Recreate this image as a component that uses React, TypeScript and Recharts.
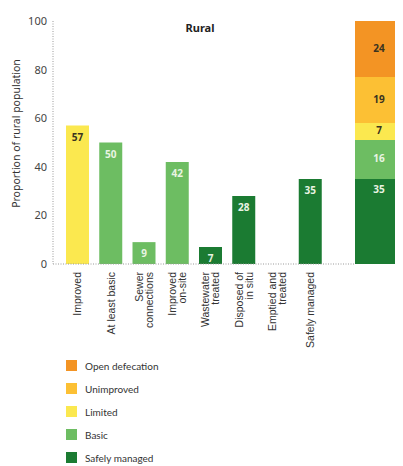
import React from 'react';
import { BarChart, Bar, XAxis, YAxis, Cell, LabelList } from 'recharts';

// x categories, '\n' marks the line break in the rotated tick
const categories = [
  'Improved',
  'At least basic',
  'Sewer\nconnections',
  'Improved\non-site',
  'Wastewater\ntreated',
  'Disposed of\nin situ',
  'Emptied and\ntreated',
  'Safely managed',
];
const values = [57, 50, 9, 42, 7, 28, null, 35];
const levels = ['Limited', 'Basic', 'Basic', 'Basic', 'Safely managed', 'Safely managed', 'Safely managed', 'Safely managed'];

// service ladder, top to bottom (legend order)
const ladderLevels = ['Open defecation', 'Unimproved', 'Limited', 'Basic', 'Safely managed'];
const ladderValues = [24, 19, 7, 16, 35];

const yTicks = [0, 20, 40, 60, 80, 100];

const COLORS: Record<string, string> = {
  'Open defecation': '#f39424',
  Unimproved: '#fcc034',
  Limited: '#fbe84f',
  Basic: '#6dbd62',
  'Safely managed': '#1b7b32',
};
const DARK_TEXT = ['Open defecation', 'Unimproved', 'Limited'];

const mainData = categories.map((name, i) => ({ name, value: values[i], level: levels[i] }));

const ladderRow: Record<string, any> = { name: 'Rural' };
ladderLevels.forEach((l, i) => {
  ladderRow[l] = ladderValues[i];
});
const ladderData = [ladderRow];

const FONT = '"Noto Sans", "DejaVu Sans", sans-serif';

function CategoryTick({ x, y, payload }: any) {
  const lines = String(payload.value).split('\n');
  const lh = 10;
  return (
    <g transform={`translate(${x},${y + 8}) rotate(-90)`}>
      <text textAnchor="end" fontSize={10.5} fill="#333" fontFamily='"Liberation Sans", Arial, sans-serif'>
        {lines.map((line, i) => (
          <tspan key={i} x={0} y={(i - (lines.length - 1) / 2) * lh} dy="0.35em">
            {line}
          </tspan>
        ))}
      </text>
    </g>
  );
}

function YLabel({ viewBox }: any) {
  const cx = viewBox.x + 9;
  const cy = viewBox.y + viewBox.height / 2 - 9;
  return (
    <text
      x={cx}
      y={cy}
      transform={`rotate(-90, ${cx}, ${cy})`}
      textAnchor="middle"
      dominantBaseline="middle"
      fontSize={10.5}
      fill="#333"
      fontFamily={FONT}
    >
      Proportion of rural population
    </text>
  );
}

function BarValue({ x, y, width, value, index }: any) {
  if (value == null) return null;
  const dark = DARK_TEXT.includes(levels[index]);
  return (
    <text
      x={x + width / 2}
      y={y + 12.5}
      textAnchor="middle"
      dominantBaseline="middle"
      fontSize={10}
      fontWeight={700}
      fill={dark ? '#3a3320' : '#e9f4e2'}
      fontFamily={FONT}
    >
      {value}
    </text>
  );
}

function makeLadderLabel(level: string) {
  return ({ x, y, width, height, value }: any) => {
    const dark = DARK_TEXT.includes(level);
    const ty = level === 'Safely managed' ? y + 11 : y + height / 2;
    return (
      <text
        x={x + width / 2}
        y={ty}
        textAnchor="middle"
        dominantBaseline="middle"
        fontSize={10}
        fontWeight={700}
        fill={dark ? '#3a3320' : '#e9f4e2'}
        fontFamily={FONT}
      >
        {value}
      </text>
    );
  };
}

export default function App() {
  const dotted = { stroke: '#9a9a9a', strokeDasharray: '1 1.5' };
  return (
    <div style={{ position: 'relative', width: 395, height: 458, overflow: 'hidden', fontFamily: FONT }}>
      <BarChart
        width={347}
        height={362}
        data={mainData}
        margin={{ top: 13, right: 0, left: 0, bottom: 0 }}
        barSize={23}
      >
        <XAxis
          dataKey="name"
          interval={0}
          height={106}
          axisLine={dotted}
          tickLine={false}
          tickSize={0}
          tickMargin={0}
          padding={{ left: 8, right: 28 }}
          tick={<CategoryTick />}
        />
        <YAxis
          width={45}
          domain={[0, 100]}
          ticks={yTicks}
          allowDataOverflow
          axisLine={dotted}
          tickLine={false}
          tickSize={6}
          tickMargin={0}
          tick={{ fontSize: 11, fill: '#444', fontFamily: FONT }}
          label={<YLabel />}
        />
        <Bar dataKey="value" isAnimationActive={false}>
          {mainData.map((d, i) => (
            <Cell key={i} fill={COLORS[d.level]} />
          ))}
          <LabelList dataKey="value" content={<BarValue />} />
        </Bar>
      </BarChart>

      <div style={{ position: 'absolute', left: 347, top: 0 }}>
        <BarChart
          width={48}
          height={336}
          data={ladderData}
          margin={{ top: 13, right: 0, left: 0, bottom: 80 }}
          barCategoryGap={0}
        >
          <XAxis dataKey="name" hide />
          <YAxis hide domain={[0, 100]} allowDataOverflow />
          {[...ladderLevels].reverse().map((lvl) => (
            <Bar key={lvl} dataKey={lvl} stackId="ladder" fill={COLORS[lvl]} isAnimationActive={false}>
              <LabelList dataKey={lvl} content={makeLadderLabel(lvl)} />
            </Bar>
          ))}
        </BarChart>
      </div>

      <div
        style={{
          position: 'absolute',
          left: 160,
          top: 12,
          width: 64,
          textAlign: 'center',
          fontSize: 11,
          fontWeight: 700,
          color: '#222',
        }}
      >
        Rural
      </div>

      <div style={{ position: 'absolute', left: 58, top: 346 }}>
        {ladderLevels.map((lvl) => (
          <div key={lvl} style={{ display: 'flex', alignItems: 'center', height: 23 }}>
            <span style={{ width: 11, height: 11, background: COLORS[lvl], display: 'inline-block' }} />
            <span style={{ marginLeft: 8, fontSize: 10, color: '#333', fontFamily: 'Lato, sans-serif' }}>{lvl}</span>
          </div>
        ))}
      </div>
    </div>
  );
}
